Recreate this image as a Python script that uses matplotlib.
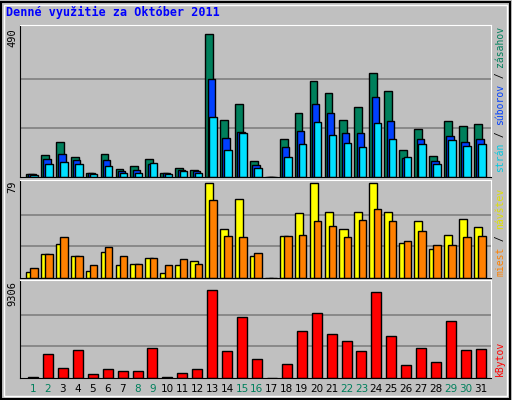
import matplotlib
matplotlib.use('Agg')
import matplotlib.pyplot as plt
from matplotlib.patches import Rectangle

days = list(range(1, 32))
hits = [11, 72, 117, 66, 14, 78, 27, 37, 59, 14, 30, 24, 475, 188, 243, 53,
        0, 127, 211, 320, 278, 188, 233, 346, 285, 91, 159, 69, 185, 169, 175]
files = [9, 59, 75, 56, 12, 56, 20, 24, 43, 12, 24, 20, 327, 130, 149, 40,
         0, 98, 153, 243, 214, 146, 146, 266, 185, 62, 127, 53, 137, 117, 127]
pages = [8, 43, 49, 43, 11, 37, 14, 14, 46, 9, 20, 14, 198, 91, 146, 30,
         0, 66, 108, 182, 140, 114, 101, 178, 127, 66, 108, 43, 124, 104, 108]
visits = [5, 20, 28, 18, 6, 22, 11, 12, 17, 4, 11, 14, 79, 41, 66, 18,
          0, 35, 54, 79, 55, 41, 55, 79, 55, 29, 47, 24, 36, 49, 42]
sites = [8, 20, 34, 18, 11, 26, 18, 12, 17, 11, 16, 12, 65, 35, 34, 21,
         0, 35, 36, 47, 43, 34, 48, 57, 47, 31, 39, 27, 27, 34, 35]
kbytes = [100, 2381, 971, 2757, 407, 877, 689, 689, 2945, 100, 501, 877, 8584, 2663,
          5953, 1817, 0, 1347, 4637, 6329, 4261, 3603, 2663, 8396, 4073, 1253,
          2945, 1535, 5577, 2757, 2851]
weekend = [1, 2, 8, 9, 15, 16, 22, 23, 29, 30]
max_hits, max_visits, max_kb = 490, 79, 9306

BG = '#c0c0c0'
W, H = 512, 400
fig = plt.figure(figsize=(W / 100, H / 100), dpi=100, facecolor=BG)

# frame lines of the webalizer image
fig.add_artist(Rectangle((1 / W, 1 / H), 509 / W, 397 / H, transform=fig.transFigure,
                         fill=False, ec='black', lw=1.5))
fig.add_artist(Rectangle((4 / W, 4 / H), 503 / W, 391 / H, transform=fig.transFigure,
                         fill=False, ec='white', lw=1))

fig.text(6 / W, 1 - 12 / H, 'Denné využitie za Október 2011', color='#0000ff',
         fontsize=8.5, fontweight='bold', family='DejaVu Sans Mono', va='center')

xmin, xmax = 0.13, 31.68


def make_ax(top, bottom, vmax):
    ax = fig.add_axes([20 / W, 1 - bottom / H, 471 / W, (bottom - top) / H])
    ax.set_facecolor(BG)
    ax.set_xlim(xmin, xmax)
    ax.set_ylim(0, vmax * 1.03)
    for g in (vmax / 3, vmax * 2 / 3):
        ax.axhline(g, color='#808080', lw=1.2, zorder=0)
    ax.set_xticks([])
    ax.set_yticks([])
    for s in ('left', 'bottom'):
        ax.spines[s].set_color('black')
    for s in ('top', 'right'):
        ax.spines[s].set_color('white')
    return ax


kw = dict(align='edge', edgecolor='black', linewidth=1, zorder=2)

ax1 = make_ax(25, 177, max_hits)
ax1.bar([d - 0.47 for d in days], hits, width=0.52, color='#00805c', **kw)
ax1.bar([d - 0.31 for d in days], files, width=0.49, color='#0040ff', **kw)
ax1.bar([d - 0.18 for d in days], pages, width=0.50, color='#00e0ff', **kw)

ax2 = make_ax(180, 278, max_visits)
ax2.bar([d - 0.47 for d in days], visits, width=0.54, color='#ffff00', **kw)
ax2.bar([d - 0.18 for d in days], sites, width=0.50, color='#ff8000', **kw)

ax3 = make_ax(280, 378, max_kb)
ax3.bar([d - 0.33 for d in days], kbytes, width=0.67, color='#ff0000', **kw)

for d in days:
    ax3.text(d, -0.11, str(d), transform=ax3.get_xaxis_transform(), ha='center', va='center',
             fontsize=7.5, color='#00805c' if d in weekend else 'black')

mono = 'DejaVu Sans Mono'
fig.text(12 / W, 1 - 38 / H, str(max_hits), rotation=90, ha='center', va='center', fontsize=7.5, family=mono)
fig.text(12 / W, 1 - 187 / H, str(max_visits), rotation=90, ha='center', va='center', fontsize=7.5, family=mono)
fig.text(12 / W, 1 - 293 / H, str(max_kb), rotation=90, ha='center', va='center', fontsize=7.5, family=mono)

# right side legends, read bottom to top
FS = 7
CW = FS * 0.602 * 100 / 72  # monospace char width in px


def vlegend(parts, y_bottom):
    y = y_bottom
    for txt, col in parts:
        fig.text(500 / W, y / H, txt, rotation=90, ha='center', va='bottom',
                 fontsize=FS, family=mono, color=col)
        y += len(txt) * CW


vlegend([('strán', '#00c8e0'), (' / ', 'black'), ('súborov', '#0040ff'),
         (' / ', 'black'), ('zásahov', '#00805c')], 400 - 172)
vlegend([('miest', '#ff8000'), (' / ', 'black'), ('návštev', '#e0e000')], 400 - 276)
vlegend([('kBytov', '#ff0000')], 400 - 376)

fig.savefig('out.png', dpi=100, facecolor=BG)
